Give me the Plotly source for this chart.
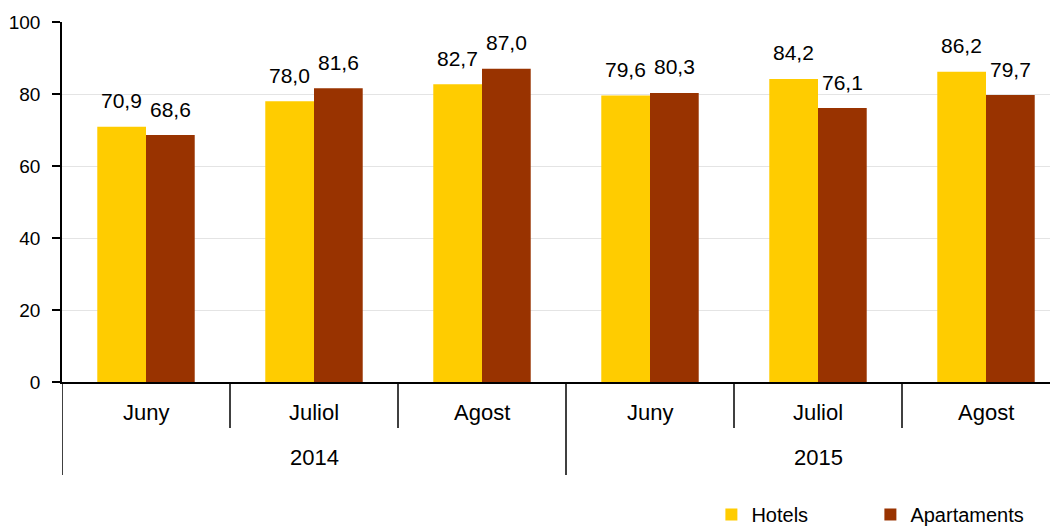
import plotly.graph_objects as go

months = ["Juny", "Juliol", "Agost", "Juny", "Juliol", "Agost"]
years = ["2014", "2015"]
hotels = [70.9, 78.0, 82.7, 79.6, 84.2, 86.2]
apartaments = [68.6, 81.6, 87.0, 80.3, 76.1, 79.7]
y_ticks = [0, 20, 40, 60, 80, 100]

FONT = "Liberation Sans, Arial, sans-serif"
YELLOW = "#FFCC00"
BROWN = "#993300"

xpos = list(range(len(months)))
bw = 0.29

fig = go.Figure()
fig.add_trace(go.Bar(x=xpos, y=hotels, name="Hotels", marker_color=YELLOW,
                     width=bw, offset=-bw, marker_line_width=0))
fig.add_trace(go.Bar(x=xpos, y=apartaments, name="Apartaments", marker_color=BROWN,
                     width=bw, offset=0, marker_line_width=0))

def fmt(v):
    return f"{v:.1f}".replace(".", ",")

ann = []
for i, (h, a) in enumerate(zip(hotels, apartaments)):
    ann.append(dict(x=i - bw / 2, y=h, xref="x", yref="y", text=fmt(h), showarrow=False,
                    yanchor="middle", yshift=26, font=dict(size=21, color="#000", family=FONT)))
    ann.append(dict(x=i + bw / 2, y=a, xref="x", yref="y", text=fmt(a), showarrow=False,
                    yanchor="middle", yshift=26, font=dict(size=21, color="#000", family=FONT)))

for i, m in enumerate(months):
    ann.append(dict(x=i, y=-0.086, xref="x", yref="paper", text=m, showarrow=False,
                    yanchor="middle", font=dict(size=22, color="#000", family=FONT)))
for j, yr in enumerate(years):
    ann.append(dict(x=1 + 3 * j, y=-0.21, xref="x", yref="paper", text=yr, showarrow=False,
                    yanchor="middle", font=dict(size=22, color="#000", family=FONT)))

shapes = []
for xs in [0.5, 1.5, 3.5, 4.5]:
    shapes.append(dict(type="line", xref="x", yref="paper", x0=xs, x1=xs, y0=0, y1=-0.128,
                       line=dict(color="#000", width=1.5)))
for xs in [-0.5, 2.5]:
    shapes.append(dict(type="line", xref="x", yref="paper", x0=xs, x1=xs, y0=0, y1=-0.258,
                       line=dict(color="#000", width=1.5)))

fig.update_layout(
    width=1050, height=520,
    margin=dict(l=54, r=0, t=14, b=146, autoexpand=False),
    paper_bgcolor="white", plot_bgcolor="white",
    barmode="overlay",
    font=dict(family=FONT, color="#000"),
    showlegend=True,
    legend=dict(orientation="h", x=0.652, xanchor="left", y=-0.368, yanchor="middle",
                font=dict(size=20, family=FONT, color="#000"), entrywidth=114,
                traceorder="normal", bgcolor="rgba(0,0,0,0)"),
    annotations=ann,
    shapes=shapes,
    xaxis=dict(range=[-0.5, -0.5 + 996 / 168], showticklabels=False, showgrid=False,
               zeroline=False, showline=True, linecolor="#000", linewidth=1.5, ticks="",
               automargin=False),
    yaxis=dict(range=[0, 100], tickvals=y_ticks, showgrid=True, gridcolor="#e4e4e4",
               gridwidth=1, zeroline=False, showline=True, linecolor="#000", linewidth=1.5,
               ticks="outside", ticklen=8, tickcolor="#000", tickwidth=1.5,
               ticklabelstandoff=8, automargin=False,
               tickfont=dict(size=19, family=FONT, color="#000")),
)

fig.write_html("out.html")
